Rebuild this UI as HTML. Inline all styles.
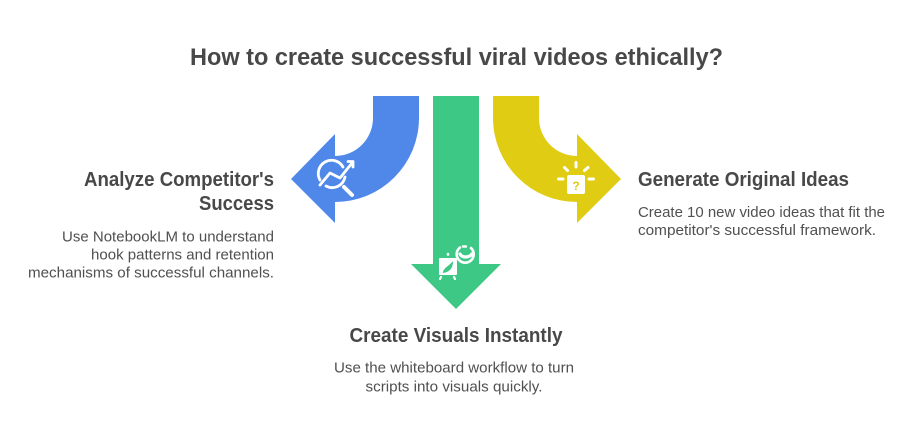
<!DOCTYPE html>
<html>
<head>
<meta charset="utf-8">
<style>
html,body{margin:0;padding:0;background:#fff;width:912px;height:441px;overflow:hidden}
svg{display:block}
text{font-family:"Liberation Sans",sans-serif;fill:#484848}
.t{font-weight:700;font-size:20px}
.b{font-size:14.5px;fill:#505050}
.h{font-weight:700;font-size:24px}
</style>
</head>
<body>
<svg width="912" height="441" viewBox="0 0 912 441" xmlns="http://www.w3.org/2000/svg">
<rect width="912" height="441" fill="#fff"/>
<text class="h" x="190" y="65" textLength="533" lengthAdjust="spacingAndGlyphs">How to create successful viral videos ethically?</text>

<path d="M373 96H419V118A84 84 0 0 1 335 202V223L291 179L335 134V156A38 38 0 0 0 373 118Z" fill="#4f88e8"/>
<path d="M433 96H479V264H501L456 309L411 264H433Z" fill="#3dc885"/>
<path d="M539 96H493V118A84 84 0 0 0 577 202V223L621 179L577 134V156A38 38 0 0 1 539 118Z" fill="#e0cc12"/>

<g fill="none" stroke="#fff" stroke-width="2.800" stroke-linecap="round" stroke-linejoin="round">
<path d="M320 180A13 13 0 0 1 343 167"/>
<path d="M326 186A13 13 0 0 0 345 177"/>
<path d="M320 185L330 173L340 178L352 163"/>
<path d="M348 161.500H353V167"/>
<path d="M344 187L352 195" stroke-width="4"/>

<path d="M460 247.500A8.500 8.500 0 1 0 471 248" stroke-width="2.600"/>
<path d="M460 254C462 258 469 258 472 254" stroke-width="3.200"/>
<path d="M463 246.500H466" stroke-width="2.400"/>
<path d="M448 254V254.500" stroke-width="2.600"/>
<path d="M441 277L440 279M454 277L455 279" stroke-width="2.200"/>

<path d="M558.500 179H563M593.500 179H589M576 162.500V167M564.500 167.500L567.500 170.500M588 167.500L584.500 170.500" stroke-width="3"/>
</g>
<rect x="439" y="258" width="18" height="17" rx="1" fill="#fff"/>
<path d="M443 273C443 268 448 267 453 261C453 268 450 272 443 273Z" fill="#3dc885"/>
<rect x="567" y="175" width="18" height="19" rx="2" fill="#fff"/>
<text x="576" y="190" font-size="12" font-weight="700" text-anchor="middle" style="fill:#e0cc12">?</text>

<text class="t" x="84" y="186" textLength="190" lengthAdjust="spacingAndGlyphs">Analyze Competitor's</text>
<text class="t" x="199" y="210" textLength="75" lengthAdjust="spacingAndGlyphs">Success</text>
<text class="b" x="62" y="241.500" textLength="212" lengthAdjust="spacingAndGlyphs">Use NotebookLM to understand</text>
<text class="b" x="91" y="259.500" textLength="183" lengthAdjust="spacingAndGlyphs">hook patterns and retention</text>
<text class="b" x="28" y="277.500" textLength="246" lengthAdjust="spacingAndGlyphs">mechanisms of successful channels.</text>

<text class="t" x="638" y="186" textLength="211" lengthAdjust="spacingAndGlyphs">Generate Original Ideas</text>
<text class="b" x="638" y="217" textLength="247" lengthAdjust="spacingAndGlyphs">Create 10 new video ideas that fit the</text>
<text class="b" x="638" y="235" textLength="238" lengthAdjust="spacingAndGlyphs">competitor's successful framework.</text>

<text class="t" x="349.500" y="342" textLength="213" lengthAdjust="spacingAndGlyphs">Create Visuals Instantly</text>
<text class="b" x="334" y="372.500" textLength="240" lengthAdjust="spacingAndGlyphs">Use the whiteboard workflow to turn</text>
<text class="b" x="365.500" y="391.500" textLength="177" lengthAdjust="spacingAndGlyphs">scripts into visuals quickly.</text>
</svg>
</body>
</html>
